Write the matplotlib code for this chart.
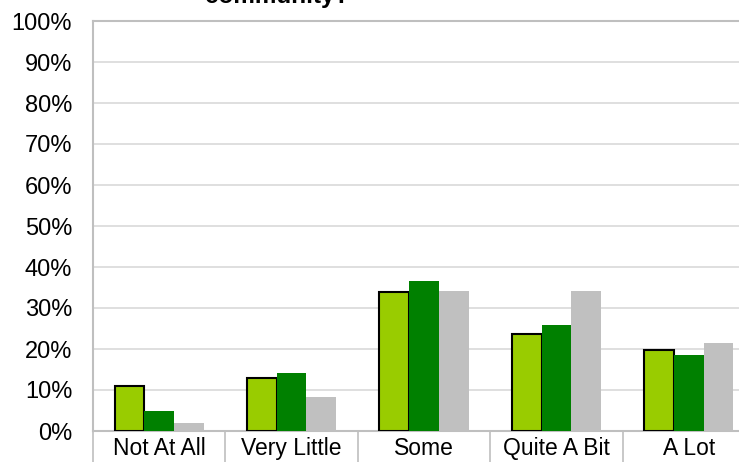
import numpy as np
import matplotlib.pyplot as plt

# Chart data (percent of respondents)
categories = ["Not At All", "Very Little", "Some", "Quite A Bit", "A Lot"]
series_a = [11.0, 12.9, 33.8, 23.6, 19.8]
series_b = [4.9, 14.2, 36.7, 25.9, 18.5]
series_c = [2.0, 8.4, 34.2, 34.2, 21.5]
yticks = np.arange(0, 101, 10)


def main():
    plt.rcParams['font.family'] = ['Liberation Sans', 'DejaVu Sans']

    fig = plt.figure(figsize=(7.39, 4.62), dpi=100)
    W, H = 739, 462
    ax = fig.add_axes([93 / W, 31 / H, (755 - 93) / W, 410 / H])

    x = np.arange(len(categories))
    w = 0.225
    ax.bar(x - w, series_a, w, color="#99CC00", edgecolor="black",
           linewidth=1.5, zorder=3)
    ax.bar(x, series_b, w, color="#008000", zorder=3)
    ax.bar(x + w, series_c, w, color="#C0C0C0", zorder=3)

    ax.set_xlim(-0.5, len(categories) - 0.5)
    ax.set_ylim(0, 100)
    ax.set_yticks(yticks)
    ax.set_yticklabels([f"{v}%" for v in yticks], fontsize=17)
    ax.yaxis.grid(True, color="#D9D9D9", linewidth=1.2, zorder=0)
    ax.tick_params(axis="y", length=0, pad=15)

    ax.set_xticks(x)
    ax.set_xticklabels(categories, fontsize=16.5)
    ax.set_xticks(np.arange(len(categories) + 1) - 0.5, minor=True)
    ax.tick_params(axis="x", which="major", length=0, pad=4)
    ax.tick_params(axis="x", which="minor", length=35, color="#BFBFBF",
                   width=1.2)

    for side in ["left", "bottom", "top", "right"]:
        ax.spines[side].set_color("#BFBFBF")
        ax.spines[side].set_linewidth(1.5)

    # Title is partly above the visible area, as in the source image
    fig.text(277 / W, 1 - 3 / H, "community?", ha="center", va="baseline",
             fontsize=17.5, fontweight="bold")

    fig.savefig("out.png", dpi=100)


if __name__ == "__main__":
    main()
